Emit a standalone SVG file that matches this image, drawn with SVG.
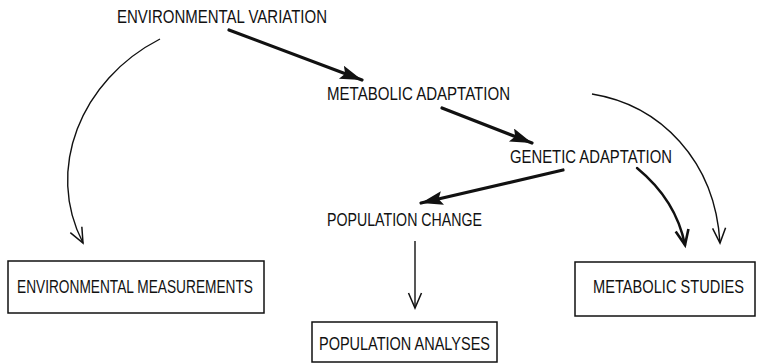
<svg xmlns="http://www.w3.org/2000/svg" width="757" height="364" viewBox="0 0 757 364">
<style>
text{font-family:"Liberation Sans","DejaVu Sans",sans-serif;font-size:19px;fill:#111}
.box{fill:none;stroke:#111;stroke-width:1.5}
.thick{fill:none;stroke:#111;stroke-width:3.2;stroke-linecap:round}
.thin{fill:none;stroke:#111;stroke-width:1.4}
</style>
<defs>
<marker id="solid" markerUnits="userSpaceOnUse" markerWidth="26" markerHeight="16" refX="22" refY="7" orient="auto">
<path d="M0,0 L22,7 L0,14 L4,7 Z" fill="#111"/>
</marker>
<marker id="open" markerUnits="userSpaceOnUse" markerWidth="20" markerHeight="18" refX="16" refY="8" orient="auto">
<path d="M1,1.5 L16,8 L1,14.5" fill="none" stroke="#111" stroke-width="1.5"/>
</marker>
<marker id="openbold" markerUnits="userSpaceOnUse" markerWidth="20" markerHeight="18" refX="16" refY="8" orient="auto">
<path d="M1,1.5 L16,8 L1,14.5" fill="none" stroke="#111" stroke-width="2.6"/>
</marker>
</defs>
<g id="connectors">
<line class="thick" x1="229" y1="30" x2="362" y2="80" marker-end="url(#solid)"/>
<line class="thick" x1="442" y1="108" x2="532" y2="143" marker-end="url(#solid)"/>
<line class="thick" x1="563" y1="170" x2="421" y2="203" marker-end="url(#solid)"/>
<path class="thin" d="M160,39 C80,80 45,170 83,243" marker-end="url(#open)"/>
<line class="thin" x1="415" y1="241" x2="415" y2="308" marker-end="url(#open)"/>
<path class="thick" style="stroke-width:2.4" d="M637,168 Q676,200 685,245" marker-end="url(#openbold)"/>
<path class="thin" d="M592,94 C660,105 715,160 720,243" marker-end="url(#open)"/>
</g>
<g id="n-env-variation"><text x="117" y="23" textLength="210" lengthAdjust="spacingAndGlyphs">ENVIRONMENTAL VARIATION</text></g>
<g id="n-metabolic-adaptation"><text x="327" y="100" textLength="183" lengthAdjust="spacingAndGlyphs">METABOLIC ADAPTATION</text></g>
<g id="n-genetic-adaptation"><text x="510" y="163" textLength="162" lengthAdjust="spacingAndGlyphs">GENETIC ADAPTATION</text></g>
<g id="n-population-change"><text x="327" y="226" textLength="155" lengthAdjust="spacingAndGlyphs">POPULATION CHANGE</text></g>
<g id="n-env-measurements">
<rect class="box" x="8" y="261" width="256" height="52"/>
<text x="17" y="293" textLength="236" lengthAdjust="spacingAndGlyphs">ENVIRONMENTAL MEASUREMENTS</text>
</g>
<g id="n-population-analyses">
<rect class="box" x="312" y="322" width="185" height="40"/>
<text x="319" y="350" textLength="171" lengthAdjust="spacingAndGlyphs">POPULATION ANALYSES</text>
</g>
<g id="n-metabolic-studies">
<rect class="box" x="575" y="262" width="180" height="54"/>
<text x="593" y="293" textLength="151" lengthAdjust="spacingAndGlyphs">METABOLIC STUDIES</text>
</g>
</svg>
